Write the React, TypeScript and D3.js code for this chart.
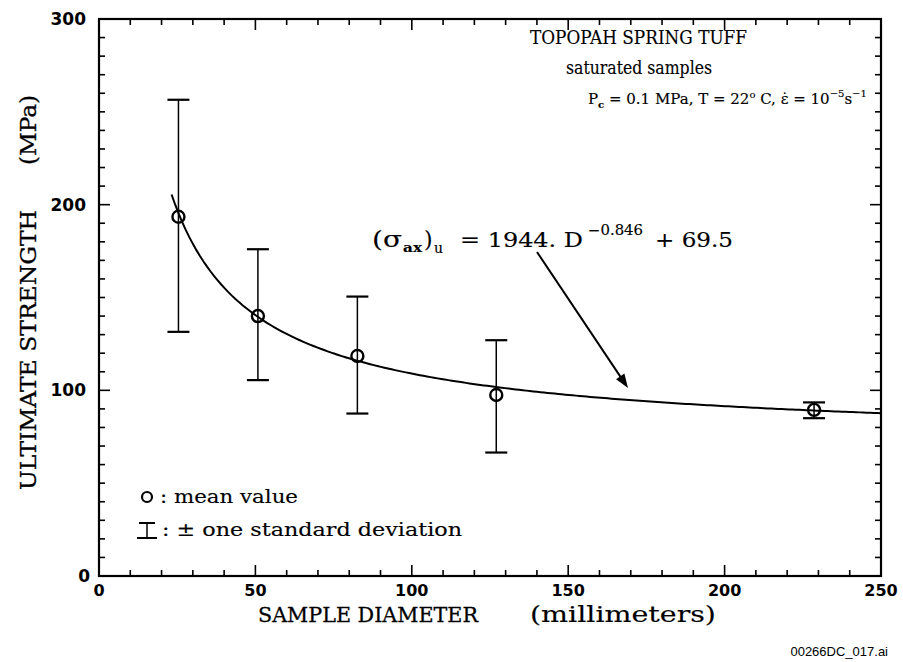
import React from "react";
import * as d3 from "d3";

const diameters = [25.4, 50.8, 82.6, 127, 228.6];
const means = [193.5, 140, 118.5, 97.5, 89.5];
const upper = [256.5, 176, 150.5, 127, 93.5];
const lower = [131.5, 105.5, 87.5, 66.5, 85];
const xTicks = [0, 50, 100, 150, 200, 250];
const yTicks = [0, 100, 200, 300];
const fitA = 1944;
const fitB = -0.846;
const fitC = 69.5;
const fitStart = 23.2;
const fitEnd = 250;

const W = 903, H = 662;
const L = 99, R = 881, T = 19, B = 576;

export default function App() {
  const x = d3.scaleLinear().domain([0, 250]).range([L, R]);
  const y = d3.scaleLinear().domain([0, 300]).range([B, T]);
  const minorX = d3.range(0, 251, 10);
  const minorY = d3.range(0, 301, 10);
  const fitPts = d3.range(0, 201).map((i) => {
    const d = fitStart + ((fitEnd - fitStart) * i) / 200;
    return [d, fitA * Math.pow(d, fitB) + fitC] as [number, number];
  });
  const line = d3.line<[number, number]>().x((p) => x(p[0])).y((p) => y(p[1]));
  const serif = "'DejaVu Serif', serif";
  const sans = "'DejaVu Sans', sans-serif";
  const st = { stroke: "#000", strokeWidth: 0.3 };
  const st2 = { stroke: "#000", strokeWidth: 0.15 };
  const ax0 = 537, ay0 = 252, ax1 = 628, ay1 = 388;
  const ang = Math.atan2(ay1 - ay0, ax1 - ax0);
  const ah = 14, aw = 5;
  const arrowHead = [
    [ax1, ay1],
    [ax1 - ah * Math.cos(ang) + aw * Math.sin(ang), ay1 - ah * Math.sin(ang) - aw * Math.cos(ang)],
    [ax1 - ah * Math.cos(ang) - aw * Math.sin(ang), ay1 - ah * Math.sin(ang) + aw * Math.cos(ang)],
  ].map((p) => p.join(",")).join(" ");
  const LA = "spacingAndGlyphs";
  return (
    <svg width={W} height={H} style={{ position: "absolute", left: 0, top: 0, background: "#fff" }}>
      <rect x={0} y={0} width={W} height={H} fill="#fff" />
      {minorX.map((v) => {
        const len = v % 50 === 0 ? 11 : 6;
        return (
          <g key={"mx" + v}>
            <line x1={x(v)} x2={x(v)} y1={B} y2={B - len} stroke="#000" strokeWidth={1.6} />
            <line x1={x(v)} x2={x(v)} y1={T} y2={T + len} stroke="#000" strokeWidth={1.6} />
          </g>
        );
      })}
      {minorY.map((v) => {
        const len = v % 100 === 0 ? 11 : 6;
        return (
          <g key={"my" + v}>
            <line x1={L} x2={L + len} y1={y(v)} y2={y(v)} stroke="#000" strokeWidth={1.6} />
            <line x1={R} x2={R - len} y1={y(v)} y2={y(v)} stroke="#000" strokeWidth={1.6} />
          </g>
        );
      })}
      <rect x={L} y={T} width={R - L} height={B - T} fill="none" stroke="#000" strokeWidth={2.2} />
      {xTicks.map((v) => (
        <text key={"xt" + v} x={x(v)} y={596} textAnchor="middle" fontFamily={sans} fontWeight="bold" fontSize={16}>
          {v}
        </text>
      ))}
      {yTicks.map((v) => (
        <text key={"yt" + v} x={v === 0 ? 90 : 86} y={y(v) + 6} textAnchor="end" fontFamily={sans} fontWeight="bold" fontSize={17}>
          {v}
        </text>
      ))}
      <text x={258} y={622} fontFamily={serif} fontSize={21} textLength={220} lengthAdjust={LA} {...st}>SAMPLE DIAMETER</text>
      <text x={530} y={622} fontFamily={serif} fontSize={22} textLength={186} lengthAdjust={LA} {...st2}>(millimeters)</text>
      <text transform="translate(36,490) rotate(-90)" fontFamily={serif} fontSize={22} textLength={280} lengthAdjust={LA} {...st}>
        ULTIMATE STRENGTH
      </text>
      <text transform="translate(36,165) rotate(-90)" fontFamily={serif} fontSize={22} textLength={70} lengthAdjust={LA} {...st}>
        (MPa)
      </text>
      <text x={888} y={656} textAnchor="end" fontFamily="'Liberation Sans', Arial, sans-serif" fontSize={13}>
        00266DC_017.ai
      </text>
      <text x={530} y={44} fontFamily={serif} fontSize={18} textLength={217} lengthAdjust={LA} {...st2}>TOPOPAH SPRING TUFF</text>
      <text x={566} y={74} fontFamily={serif} fontSize={18} textLength={146} lengthAdjust={LA} {...st2}>saturated samples</text>
      <text x={588} y={104} fontFamily={serif} fontSize={15} {...st2}>
        P<tspan fontSize={10} dy={4} fontWeight="bold">c</tspan>
        <tspan dy={-4}> = 0.1 MPa, T = 22</tspan>
        <tspan fontSize={10} dy={-6}>o</tspan>
        <tspan dy={6}> C, ε̇ = 10</tspan>
        <tspan fontSize={10} dy={-7}>−5</tspan>
        <tspan dy={7}>s</tspan>
        <tspan fontSize={10} dy={-7}>−1</tspan>
      </text>
      <g fontFamily={serif} {...st2}>
        <text x={372} y={247} fontSize={22} textLength={30} lengthAdjust={LA}>(σ</text>
        <text x={403} y={252} fontSize={13} fontWeight="bold" textLength={19} lengthAdjust={LA}>ax</text>
        <text x={424} y={247} fontSize={22}>)</text>
        <text x={434} y={253} fontSize={14}>u</text>
        <text x={460} y={247} fontSize={21} textLength={123} lengthAdjust={LA}>= 1944. D</text>
        <text x={588} y={235} fontSize={14} textLength={55} lengthAdjust={LA}>−0.846</text>
        <text x={655} y={247} fontSize={21} textLength={78} lengthAdjust={LA}>+ 69.5</text>
      </g>
      <line x1={ax0} y1={ay0} x2={ax1 - 8 * Math.cos(ang)} y2={ay1 - 8 * Math.sin(ang)} stroke="#000" strokeWidth={2} />
      <polygon points={arrowHead} fill="#000" />
      <path d={line(fitPts) || ""} fill="none" stroke="#000" strokeWidth={2} />
      {diameters.map((d, i) => (
        <g key={"eb" + i} stroke="#000">
          <line x1={x(d)} x2={x(d)} y1={y(upper[i])} y2={y(lower[i])} strokeWidth={1.5} />
          <line x1={x(d) - 11} x2={x(d) + 11} y1={y(upper[i])} y2={y(upper[i])} strokeWidth={2.2} />
          <line x1={x(d) - 11} x2={x(d) + 11} y1={y(lower[i])} y2={y(lower[i])} strokeWidth={2.2} />
          <circle cx={x(d)} cy={y(means[i])} r={6} fill="none" strokeWidth={2.4} />
        </g>
      ))}
      <circle cx={147} cy={497} r={5} fill="none" stroke="#000" strokeWidth={2.2} />
      <text x={160} y={503} fontFamily={serif} fontSize={18} textLength={138} lengthAdjust={LA} {...st2}>: mean value</text>
      <g stroke="#000">
        <line x1={147} x2={147} y1={523} y2={538} strokeWidth={1.5} />
        <line x1={139} x2={155} y1={523} y2={523} strokeWidth={2} />
        <line x1={137} x2={157} y1={538} y2={538} strokeWidth={2} />
      </g>
      <text x={162} y={536} fontFamily={serif} fontSize={18} textLength={300} lengthAdjust={LA} {...st2}>: ± one standard deviation</text>
    </svg>
  );
}
